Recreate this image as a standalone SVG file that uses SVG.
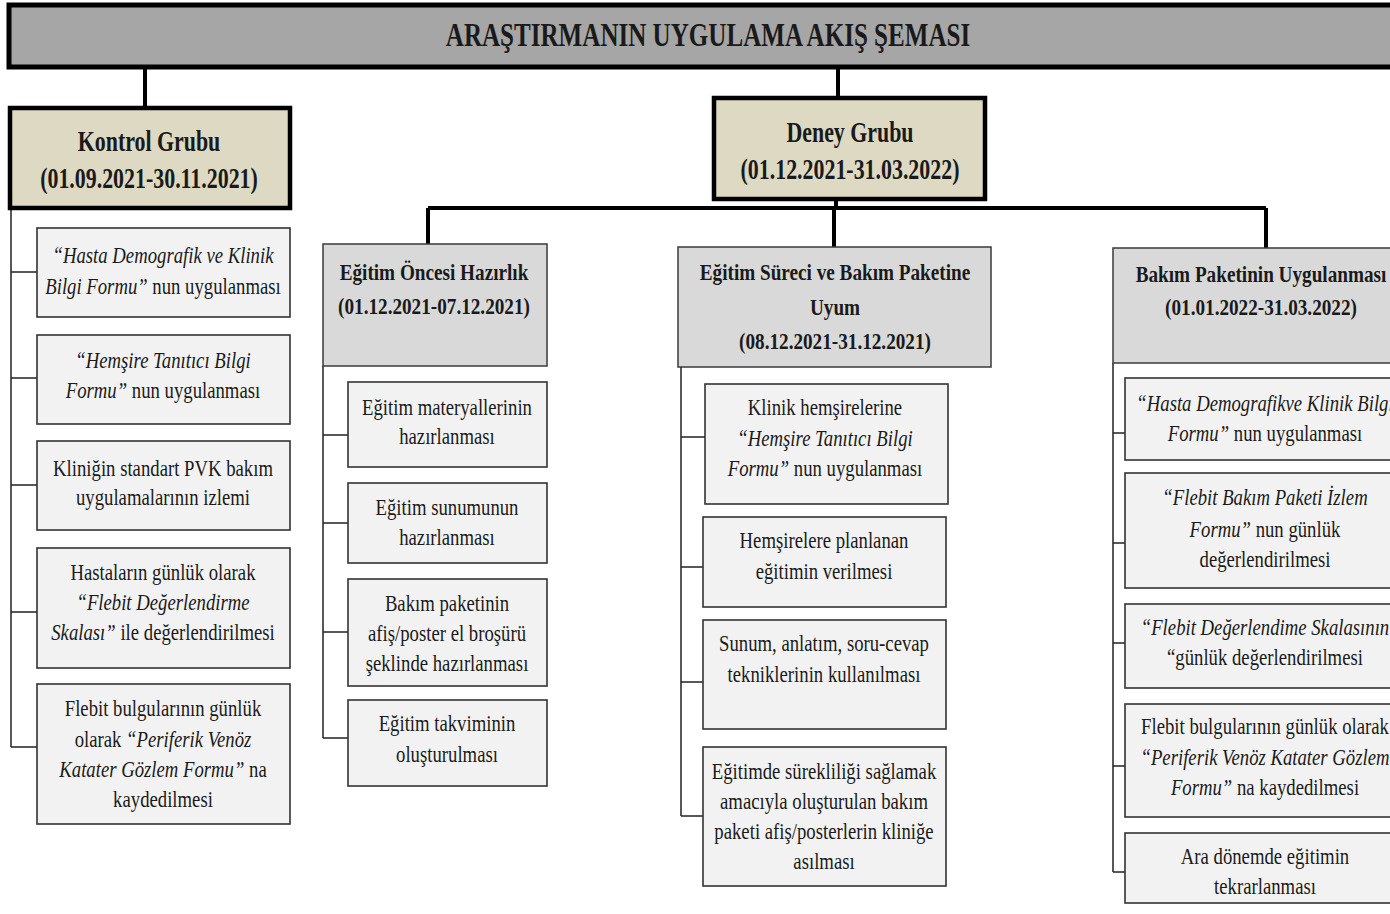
<svg xmlns="http://www.w3.org/2000/svg" width="1390" height="914" viewBox="0 0 1390 914">
<style>
.bg{fill:#ffffff}
.title{fill:#a6a6a6;stroke:#000;stroke-width:5}
.grp{fill:#ddd9c3;stroke:#000;stroke-width:4.5}
.phase{fill:#d9d9d9;stroke:#3a3a3a;stroke-width:1.5}
.box{fill:#f2f2f2;stroke:#333;stroke-width:1.6}
.thick{stroke:#000;stroke-width:4;fill:none}
.thin{stroke:#222;stroke-width:1.5;fill:none}
text{font-family:"Liberation Serif","Times New Roman",serif;fill:#1a1a1a;text-anchor:middle}
.t{font-size:24px}
.h{font-size:24px;font-weight:bold}
.hb{font-size:30px;font-weight:bold}
.tt{font-size:33px;font-weight:bold}
.i{font-style:italic}
</style>
<rect class="bg" x="0" y="0" width="1390" height="914"/>

<g id="connectors">
  <path class="thick" d="M145 68 V108" stroke-width="3"/>
  <path class="thick" d="M838 68 V98" stroke-width="3"/>
  <path class="thick" d="M836 199 V208"/>
  <path class="thick" d="M428 208 H1266"/>
  <path class="thick" d="M428 208 V244"/>
  <path class="thick" d="M834 208 V247"/>
  <path class="thick" d="M1266 208 V248"/>
  <path class="thin" d="M11 208 V747 M11 272 H37 M11 378 H37 M11 485 H37 M11 612 H37 M11 747 H37"/>
  <path class="thin" d="M323 366 V738 M323 435 H348 M323 523 H348 M323 632 H348 M323 738 H348"/>
  <path class="thin" d="M681 367 V816 M681 437 H705 M681 567 H703 M681 682 H703 M681 816 H703"/>
  <path class="thin" d="M1113 363 V872 M1113 433 H1125 M1113 543 H1125 M1113 643 H1125 M1113 766 H1125 M1113 872 H1125"/>
</g>

<g id="title">
  <rect class="title" x="9" y="5" width="1400" height="62"/>
  <text class="tt" transform="translate(708 0) scale(0.76 1)" x="0" y="46">ARAŞTIRMANIN UYGULAMA AKIŞ ŞEMASI</text>
</g>

<g id="kontrol">
  <rect class="grp" x="10" y="108" width="280" height="100"/>
  <text class="hb" transform="translate(149 0) scale(0.73 1)"><tspan x="0" y="151">Kontrol Grubu</tspan><tspan x="0" y="188">(01.09.2021-30.11.2021)</tspan></text>
</g>

<g id="k1">
  <rect class="box" x="37" y="228" width="253" height="89"/>
  <text class="t" transform="translate(163 0) scale(0.78 1)"><tspan x="0" y="263" class="i">“Hasta Demografik ve Klinik</tspan><tspan x="0" y="294"><tspan class="i">Bilgi Formu”</tspan> nun uygulanması</tspan></text>
</g>
<g id="k2">
  <rect class="box" x="37" y="335" width="253" height="89"/>
  <text class="t" transform="translate(163 0) scale(0.78 1)"><tspan x="0" y="368" class="i">“Hemşire Tanıtıcı Bilgi</tspan><tspan x="0" y="398"><tspan class="i">Formu”</tspan> nun uygulanması</tspan></text>
</g>
<g id="k3">
  <rect class="box" x="37" y="441" width="253" height="89"/>
  <text class="t" transform="translate(163 0) scale(0.78 1)"><tspan x="0" y="476">Kliniğin standart PVK bakım</tspan><tspan x="0" y="505">uygulamalarının izlemi</tspan></text>
</g>
<g id="k4">
  <rect class="box" x="37" y="548" width="253" height="120"/>
  <text class="t" transform="translate(163 0) scale(0.78 1)"><tspan x="0" y="580">Hastaların günlük olarak</tspan><tspan x="0" y="610" class="i">“Flebit  Değerlendirme</tspan><tspan x="0" y="640"><tspan class="i">Skalası”</tspan>  ile değerlendirilmesi</tspan></text>
</g>
<g id="k5">
  <rect class="box" x="37" y="684" width="253" height="140"/>
  <text class="t" transform="translate(163 0) scale(0.78 1)"><tspan x="0" y="716">Flebit bulgularının günlük</tspan><tspan x="0" y="747">olarak  <tspan class="i">“Periferik Venöz</tspan></tspan><tspan x="0" y="777"><tspan class="i">Katater Gözlem Formu”</tspan> na</tspan><tspan x="0" y="807">kaydedilmesi</tspan></text>
</g>

<g id="deney">
  <rect class="grp" x="714" y="98" width="271" height="101"/>
  <text class="hb" transform="translate(850 0) scale(0.73 1)"><tspan x="0" y="142">Deney Grubu</tspan><tspan x="0" y="179">(01.12.2021-31.03.2022)</tspan></text>
</g>

<g id="phase1">
  <rect class="phase" x="323" y="244" width="224" height="122"/>
  <text class="h" transform="translate(434 0) scale(0.8 1)"><tspan x="0" y="280">Eğitim  Öncesi Hazırlık</tspan><tspan x="0" y="314">(01.12.2021-07.12.2021)</tspan></text>
</g>
<g id="p1a">
  <rect class="box" x="348" y="382" width="199" height="85"/>
  <text class="t" transform="translate(447 0) scale(0.78 1)"><tspan x="0" y="415">Eğitim materyallerinin</tspan><tspan x="0" y="444">hazırlanması</tspan></text>
</g>
<g id="p1b">
  <rect class="box" x="348" y="483" width="199" height="80"/>
  <text class="t" transform="translate(447 0) scale(0.78 1)"><tspan x="0" y="515">Eğitim sunumunun</tspan><tspan x="0" y="545">hazırlanması</tspan></text>
</g>
<g id="p1c">
  <rect class="box" x="348" y="579" width="199" height="107"/>
  <text class="t" transform="translate(447 0) scale(0.78 1)"><tspan x="0" y="611">Bakım paketinin</tspan><tspan x="0" y="641">afiş/poster el broşürü</tspan><tspan x="0" y="671">şeklinde  hazırlanması</tspan></text>
</g>
<g id="p1d">
  <rect class="box" x="348" y="700" width="199" height="86"/>
  <text class="t" transform="translate(447 0) scale(0.78 1)"><tspan x="0" y="731">Eğitim takviminin</tspan><tspan x="0" y="762">oluşturulması</tspan></text>
</g>

<g id="phase2">
  <rect class="phase" x="678" y="247" width="313" height="120"/>
  <text class="h" transform="translate(835 0) scale(0.8 1)"><tspan x="0" y="280">Eğitim  Süreci ve Bakım Paketine</tspan><tspan x="0" y="315">Uyum</tspan><tspan x="0" y="349">(08.12.2021-31.12.2021)</tspan></text>
</g>
<g id="p2a">
  <rect class="box" x="705" y="384" width="243" height="120"/>
  <text class="t" transform="translate(825 0) scale(0.78 1)"><tspan x="0" y="415">Klinik hemşirelerine</tspan><tspan x="0" y="446" class="i">“Hemşire Tanıtıcı Bilgi</tspan><tspan x="0" y="476"><tspan class="i">Formu”</tspan> nun uygulanması</tspan></text>
</g>
<g id="p2b">
  <rect class="box" x="703" y="517" width="243" height="90"/>
  <text class="t" transform="translate(824 0) scale(0.78 1)"><tspan x="0" y="548">Hemşirelere planlanan</tspan><tspan x="0" y="579">eğitimin verilmesi</tspan></text>
</g>
<g id="p2c">
  <rect class="box" x="703" y="620" width="243" height="109"/>
  <text class="t" transform="translate(824 0) scale(0.78 1)"><tspan x="0" y="651">Sunum, anlatım, soru-cevap</tspan><tspan x="0" y="682">tekniklerinin kullanılması</tspan></text>
</g>
<g id="p2d">
  <rect class="box" x="703" y="747" width="243" height="139"/>
  <text class="t" transform="translate(824 0) scale(0.78 1)"><tspan x="0" y="779">Eğitimde sürekliliği sağlamak</tspan><tspan x="0" y="809">amacıyla oluşturulan bakım</tspan><tspan x="0" y="839">paketi afiş/posterlerin kliniğe</tspan><tspan x="0" y="869">asılması</tspan></text>
</g>

<g id="phase3">
  <rect class="phase" x="1113" y="248" width="300" height="115"/>
  <text class="h" transform="translate(1261 0) scale(0.8 1)"><tspan x="0" y="282">Bakım Paketinin Uygulanması</tspan><tspan x="0" y="315">(01.01.2022-31.03.2022)</tspan></text>
</g>
<g id="p3a">
  <rect class="box" x="1125" y="378" width="285" height="82"/>
  <text class="t" transform="translate(1265 0) scale(0.78 1)"><tspan x="0" y="411" class="i">“Hasta Demografikve Klinik Bilgi</tspan><tspan x="0" y="441"><tspan class="i">Formu”</tspan> nun uygulanması</tspan></text>
</g>
<g id="p3b">
  <rect class="box" x="1125" y="473" width="285" height="115"/>
  <text class="t" transform="translate(1265 0) scale(0.78 1)"><tspan x="0" y="505" class="i">“Flebit Bakım Paketi İzlem</tspan><tspan x="0" y="537"><tspan class="i">Formu”</tspan> nun günlük</tspan><tspan x="0" y="567">değerlendirilmesi</tspan></text>
</g>
<g id="p3c">
  <rect class="box" x="1125" y="604" width="285" height="84"/>
  <text class="t" transform="translate(1265 0) scale(0.78 1)"><tspan x="0" y="635" class="i">“Flebit Değerlendime Skalasının</tspan><tspan x="0" y="665">“günlük değerlendirilmesi</tspan></text>
</g>
<g id="p3d">
  <rect class="box" x="1125" y="704" width="285" height="113"/>
  <text class="t" transform="translate(1265 0) scale(0.78 1)"><tspan x="0" y="734">Flebit bulgularının günlük olarak</tspan><tspan x="0" y="765" class="i">“Periferik Venöz Katater Gözlem</tspan><tspan x="0" y="795"><tspan class="i">Formu”</tspan> na kaydedilmesi</tspan></text>
</g>
<g id="p3e">
  <rect class="box" x="1125" y="833" width="285" height="70"/>
  <text class="t" transform="translate(1265 0) scale(0.78 1)"><tspan x="0" y="864">Ara dönemde eğitimin</tspan><tspan x="0" y="894">tekrarlanması</tspan></text>
</g>
</svg>
